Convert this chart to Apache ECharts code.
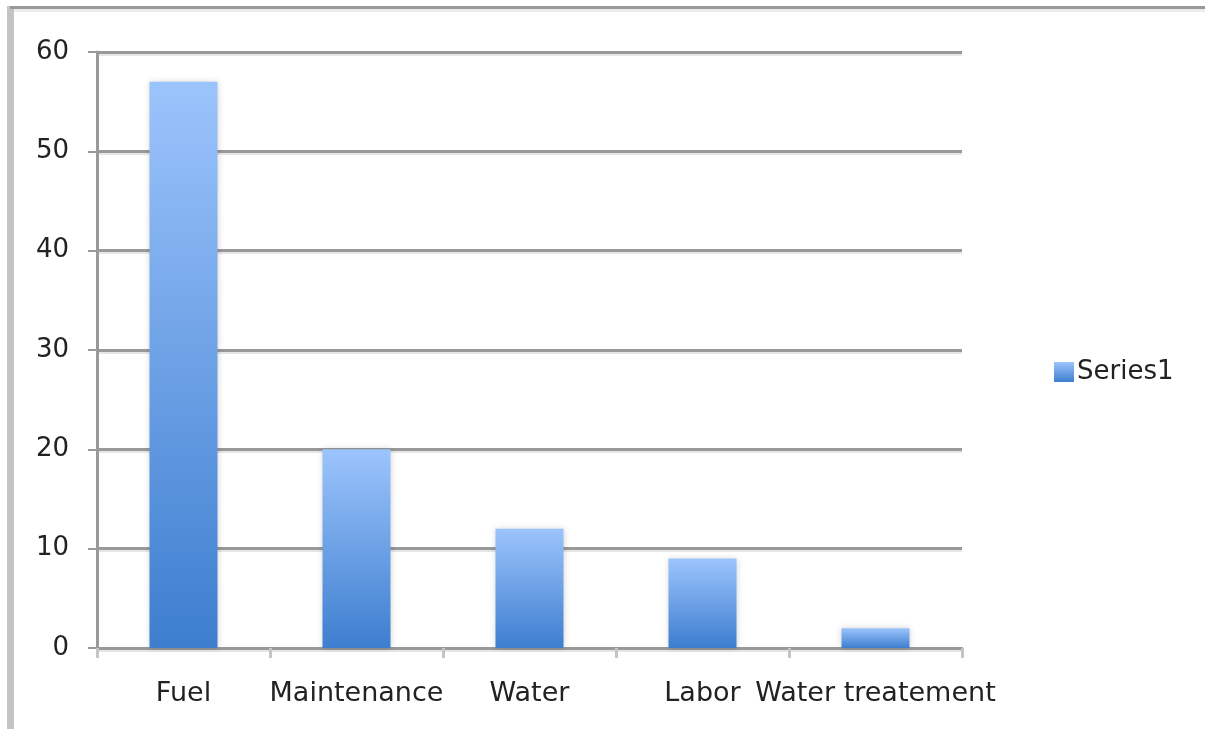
<!DOCTYPE html>
<html>
<head>
<meta charset="utf-8">
<script src="https://cdn.jsdelivr.net/npm/echarts@6/dist/echarts.min.js"></script>
<style>
  html, body { margin: 0; padding: 0; background: #fff; }
  #chart { width: 1205px; height: 729px; }
</style>
</head>
<body>
<div id="chart"></div>
<script>
// data
const categories = ['Fuel', 'Maintenance', 'Water', 'Labor', 'Water treatement'];
const series1 = [57, 20, 12, 9, 2];
const yTicks = { min: 0, max: 60, interval: 10 };

let myChart = echarts.init(document.getElementById('chart'));
const barGradient = new echarts.graphic.LinearGradient(0, 0, 0, 1, [
  { offset: 0, color: '#9cc4fc' },
  { offset: 1, color: '#3d7ecf' }
]);
const option = {
  animation: false,
  textStyle: { fontFamily: 'DejaVu Sans' },
  graphic: [
    // frame around the picture
    { type: 'rect', left: 7, top: 6, shape: { width: 7, height: 723 }, style: { fill: '#c4c4c4' } },
    { type: 'rect', left: 10, top: 6, shape: { width: 1195, height: 3 }, style: { fill: '#999999' } },
    { type: 'rect', left: 14, top: 9, shape: { width: 1191, height: 3 }, style: { fill: '#ececec' } }
  ],
  grid: { left: 97, right: 243, top: 52, bottom: 81, containLabel: false },
  legend: {
    left: 1049,
    top: 354,
    orient: 'vertical',
    icon: 'rect',
    itemWidth: 20,
    itemHeight: 20,
    itemGap: 8,
    textStyle: { fontSize: 26, color: '#222', fontFamily: 'DejaVu Sans', padding: [0, 0, 0, -2] },
    data: ['Series1']
  },
  xAxis: {
    type: 'category',
    data: categories,
    axisLine: { lineStyle: { color: '#999', width: 3 } },
    axisTick: { show: true, alignWithLabel: false, interval: 0, length: 10, lineStyle: { color: '#c4c4c4', width: 3 } },
    axisLabel: { fontSize: 27, color: '#222', margin: 32, interval: 0 }
  },
  yAxis: {
    type: 'value',
    min: yTicks.min,
    max: yTicks.max,
    interval: yTicks.interval,
    axisLine: { show: true, lineStyle: { color: '#999', width: 3 } },
    axisTick: { show: true, length: 9, lineStyle: { color: '#999', width: 2 } },
    axisLabel: { fontSize: 26, color: '#222', margin: 28 },
    splitLine: { lineStyle: { color: '#999', width: 3, shadowColor: '#e6e6e6', shadowOffsetY: 2 } }
  },
  series: [
    {
      name: 'Series1',
      type: 'bar',
      data: series1,
      barWidth: 68,
      itemStyle: {
        color: barGradient,
        shadowColor: 'rgba(0,0,0,0.18)',
        shadowBlur: 6
      }
    }
  ]
};
myChart.setOption(option);
</script>
</body>
</html>
